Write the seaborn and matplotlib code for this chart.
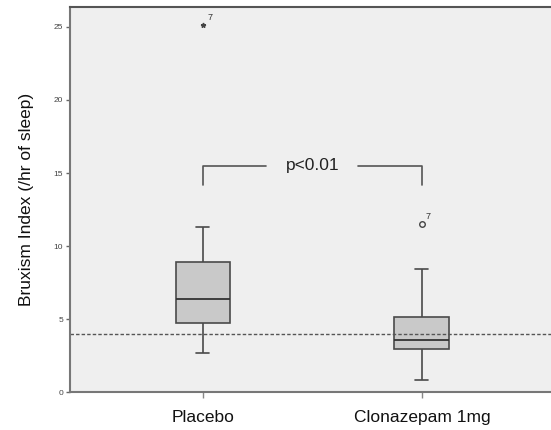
import pandas as pd
import matplotlib.pyplot as plt
import seaborn as sns

# values (n=11 per group)
groups = ["Placebo", "Clonazepam 1mg"]
placebo = [2.67, 3.9, 4.5, 4.96, 5.8, 6.37, 7.2, 8.5, 9.3, 11.3, 25.1]
clonazepam = [0.82, 2.4, 2.8, 3.1, 3.3, 3.56, 4.1, 4.9, 5.38, 8.4, 11.5]
outlier_case = "7"
threshold = 4.0
bracket_y = 15.5
bracket_drop = 14.2
p_label = "p<0.01"
y_ticks = [0, 5, 10, 15, 20, 25]

df = pd.DataFrame({
    "group": [groups[0]] * len(placebo) + [groups[1]] * len(clonazepam),
    "value": placebo + clonazepam,
})

sns.set_style("white")
plt.rcParams["font.family"] = ["Liberation Sans", "DejaVu Sans"]

fig = plt.figure(figsize=(5.51, 4.30), dpi=100)
ax = fig.add_axes([0.127, 0.088, 0.873, 0.896])
ax.set_facecolor("#efefef")

edge = "#4a4a4a"
sns.boxplot(
    data=df, x="group", y="value", order=groups, ax=ax,
    width=0.25, color="#c9c9c9", saturation=1, linecolor=edge, linewidth=1.2,
    capwidths=0.06,
    flierprops=dict(marker="o", markersize=4, markerfacecolor="none",
                    markeredgecolor="#444444", markeredgewidth=1),
    medianprops=dict(color="#333333", linewidth=1.3),
)

# SPSS marks extreme outliers with a star
for ln in ax.lines:
    yd = list(ln.get_ydata())
    if ln.get_marker() == "o" and max(placebo) in yd:
        ln.set_marker("*")
        ln.set_markersize(3.5)
        ln.set_markerfacecolor("#444444")

for i, vals in enumerate([placebo, clonazepam]):
    ax.annotate(outlier_case, (i, max(vals)), xytext=(3, 4),
                textcoords="offset points", fontsize=6.5, color="#333333")

ax.axhline(threshold, color="#555555", linestyle=(0, (2.5, 1.5)), linewidth=1)

# significance bracket
ax.plot([0, 0, 0.29], [bracket_drop, bracket_y, bracket_y], color="#555555", lw=1.2)
ax.plot([0.71, 1, 1], [bracket_y, bracket_y, bracket_drop], color="#555555", lw=1.2)
ax.text(0.5, bracket_y, p_label, ha="center", va="center", fontsize=12.5, color="#222222")

ax.set_xlim(-0.607, 1.59)
ax.set_ylim(0, 26.37)
ax.set_yticks(y_ticks)
ax.tick_params(axis="y", labelsize=6, length=3, width=1, color="#666666",
               labelcolor="#444444", left=True, pad=2)
ax.tick_params(axis="x", labelsize=12.5, length=4, width=1, color="#888888",
               labelcolor="#111111", bottom=True, pad=9)
ax.set_xlabel("")
ax.set_ylabel("Bruxism Index (/hr of sleep)", fontsize=12.5, color="#111111", labelpad=14)

for side in ["left", "bottom"]:
    ax.spines[side].set_color("#777777")
    ax.spines[side].set_linewidth(1.5)
ax.spines["top"].set_color("#555555")
ax.spines["top"].set_linewidth(1.5)
ax.spines["right"].set_visible(False)

fig.savefig("out.png", dpi=100)
